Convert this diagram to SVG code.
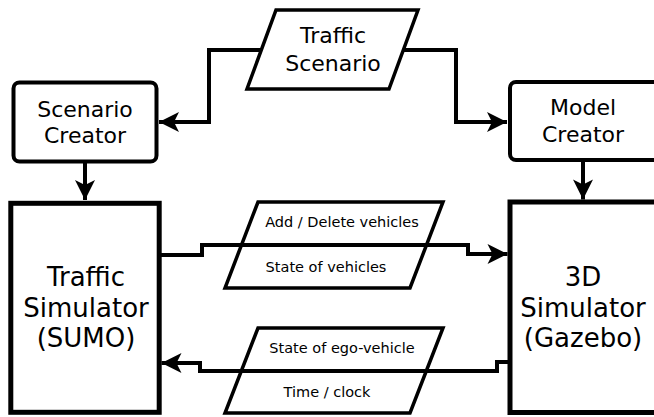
<svg xmlns="http://www.w3.org/2000/svg" width="654" height="417" viewBox="0 0 654 417">
<defs>
<style>
text{font-family:"DejaVu Sans","Liberation Sans",sans-serif;fill:#000;text-anchor:middle}
.big{font-size:26px}
.mid{font-size:22px}
.small{font-size:14.5px}
.box{fill:#fff;stroke:#000;stroke-width:5}
.rbox{fill:#fff;stroke:#000;stroke-width:4}
.para{fill:#fff;stroke:#000;stroke-width:3.5;stroke-linejoin:miter}
.conn{fill:none;stroke:#000;stroke-width:4;stroke-linejoin:miter}
</style>
<marker id="ah" markerUnits="userSpaceOnUse" markerWidth="24" markerHeight="24" viewBox="-22 -12 24 24" refX="0" refY="0" orient="auto">
<path d="M0,0 L-20,-10 L-15,0 L-20,10 Z" fill="#000"/>
</marker>
</defs>
<rect width="654" height="417" fill="#fff"/>
<g id="traffic-scenario">
<polygon class="para" points="276,10 418,10 389,89 247,89"/>
<text class="mid" x="333" y="43">Traffic</text>
<text class="mid" x="333" y="71">Scenario</text>
</g>
<g id="scenario-creator">
<rect class="rbox" x="13.5" y="82.5" width="143" height="79" rx="6"/>
<text class="mid" x="85" y="117">Scenario</text>
<text class="mid" x="85" y="143">Creator</text>
</g>
<g id="model-creator">
<rect class="rbox" x="510" y="82" width="160" height="78" rx="6"/>
<text class="mid" x="583" y="115">Model</text>
<text class="mid" x="583" y="142">Creator</text>
</g>
<g id="traffic-simulator">
<rect class="box" x="10.8" y="203.3" width="148.4" height="209"/>
<text class="big" x="86" y="286">Traffic</text>
<text class="big" x="86" y="317">Simulator</text>
<text class="big" x="86" y="347">(SUMO)</text>
</g>
<g id="gazebo-simulator">
<rect class="box" x="510" y="202" width="160" height="210.5"/>
<text class="big" x="583" y="286">3D</text>
<text class="big" x="583" y="317">Simulator</text>
<text class="big" x="583" y="347">(Gazebo)</text>
</g>
<g id="sumo-to-gazebo-data">
<polygon class="para" points="258,202 443,202 410,288 225,288"/>
<text class="small" x="342" y="227">Add / Delete vehicles</text>
<text class="small" x="326" y="272">State of vehicles</text>
</g>
<g id="gazebo-to-sumo-data">
<polygon class="para" points="258,328 443,328 410,413 225,413"/>
<text class="small" x="342" y="353">State of ego-vehicle</text>
<text class="small" x="327" y="397">Time / clock</text>
</g>
<g id="connectors">
<path class="conn" d="M261,50 H209 V122 H159" marker-end="url(#ah)"/>
<path class="conn" d="M403,50 H456 V122 H507" marker-end="url(#ah)"/>
<path class="conn" d="M85,162 V200" marker-end="url(#ah)"/>
<path class="conn" d="M583,160 V199.5" marker-end="url(#ah)"/>
<path class="conn" d="M161,255 H202 V245 H468 V254 H507.5" marker-end="url(#ah)"/>
<path class="conn" d="M508,362 H497 V371 H200 V363 H161.5" marker-end="url(#ah)"/>
</g>
</svg>
